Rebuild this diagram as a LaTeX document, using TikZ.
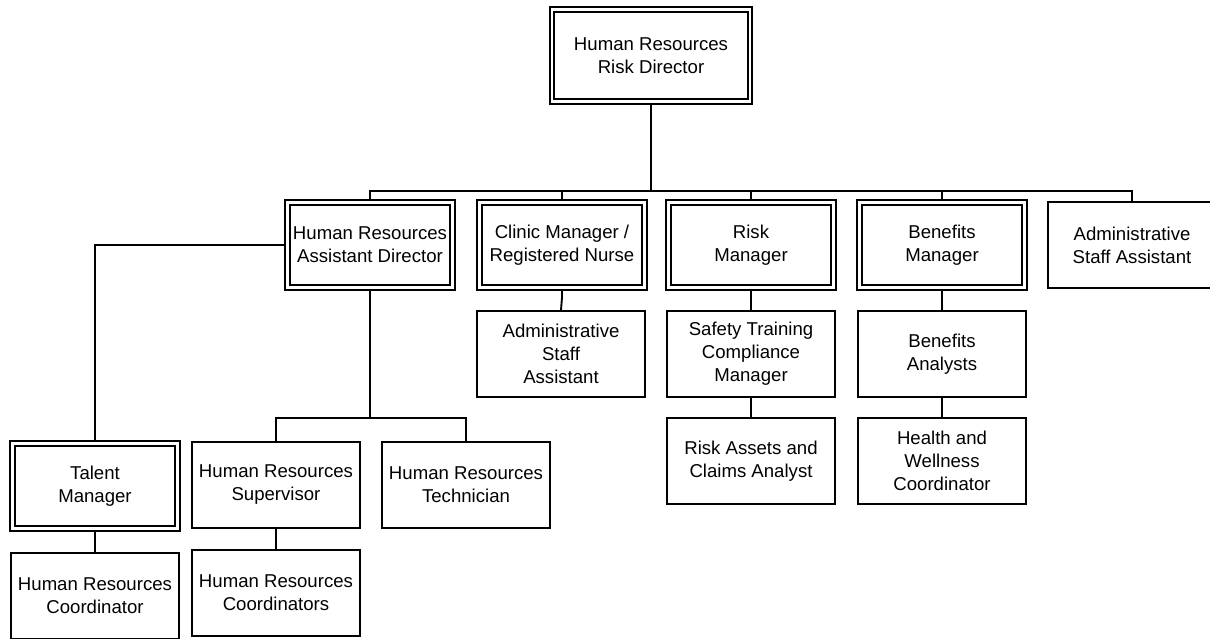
\documentclass[tikz,border=0pt]{standalone}
\usepackage{fontspec}
\setmainfont{Liberation Sans}
\usetikzlibrary{backgrounds}

\tikzset{
  box/.style={draw, fill=white, line width=1.8pt, align=center, inner sep=1pt,
    minimum width=168pt, minimum height=86pt,
    font=\fontsize{18.6}{23}\selectfont},
  dbox/.style={box, double, double distance=2.8pt, line width=1.7pt,
    minimum width=165pt, minimum height=85pt},
  link/.style={line width=1.9pt}
}

\begin{document}
\begin{tikzpicture}[x=1pt,y=-1pt]
\useasboundingbox (0,0) rectangle (1210,638);

% director
\node[dbox, minimum width=198pt, minimum height=92pt] (top) at (651,55.5) {Human Resources\\Risk Director};

% first level
\node[dbox] (hrad)   at (370,245) {Human Resources\\Assistant Director};
\node[dbox] (clinic) at (562,245) {Clinic Manager /\\Registered Nurse};
\node[dbox] (risk)   at (751,245) {Risk\\Manager};
\node[dbox] (ben)    at (942,245) {Benefits\\Manager};
\node[box]  (admin)  at (1132,245) {Administrative\\Staff Assistant};

% below clinic, risk and benefits
\node[box] (clinicsa)   at (561,354) {Administrative\\Staff\\Assistant};
\node[box] (safety)     at (751,354) {Safety Training\\Compliance\\Manager};
\node[box] (banal)      at (942,354) {Benefits\\Analysts};
\node[box] (riskassets) at (751,461) {Risk Assets and\\Claims Analyst};
\node[box] (health)     at (942,461) {Health and\\Wellness\\Coordinator};

% below the assistant director
\node[dbox] (talent)   at (95,486)  {Talent\\Manager};
\node[box]  (hrcoord)  at (95,596)  {Human Resources\\Coordinator};
\node[box]  (sup)      at (276,485) {Human Resources\\Supervisor};
\node[box]  (tech)     at (466,485) {Human Resources\\Technician};
\node[box]  (hrcoords) at (276,593) {Human Resources\\Coordinators};

\coordinate (bus)  at (651,191);
\coordinate (bus2) at (370,418);

\begin{scope}[on background layer]
  \draw[link] (top) -- (bus);
  \draw[link] (hrad.north) |- (bus) -| (admin.north);
  \draw[link] (clinic.north) -- (clinic.north |- bus);
  \draw[link] (risk.north) -- (risk.north |- bus);
  \draw[link] (ben.north) -- (ben.north |- bus);

  \draw[link] (clinic.south) -- ++(0,9) -- (clinicsa.north);
  \draw[link] (risk) -- (safety) -- (riskassets);
  \draw[link] (ben) -- (banal) -- (health);

  \draw[link] (hrad.west) -| (talent.north);
  \draw[link] (talent) -- (hrcoord);
  \draw[link] (hrad.south) -- (bus2);
  \draw[link] (sup.north) |- (bus2) -| (tech.north);
  \draw[link] (sup) -- (hrcoords);
\end{scope}
\end{tikzpicture}
\end{document}
